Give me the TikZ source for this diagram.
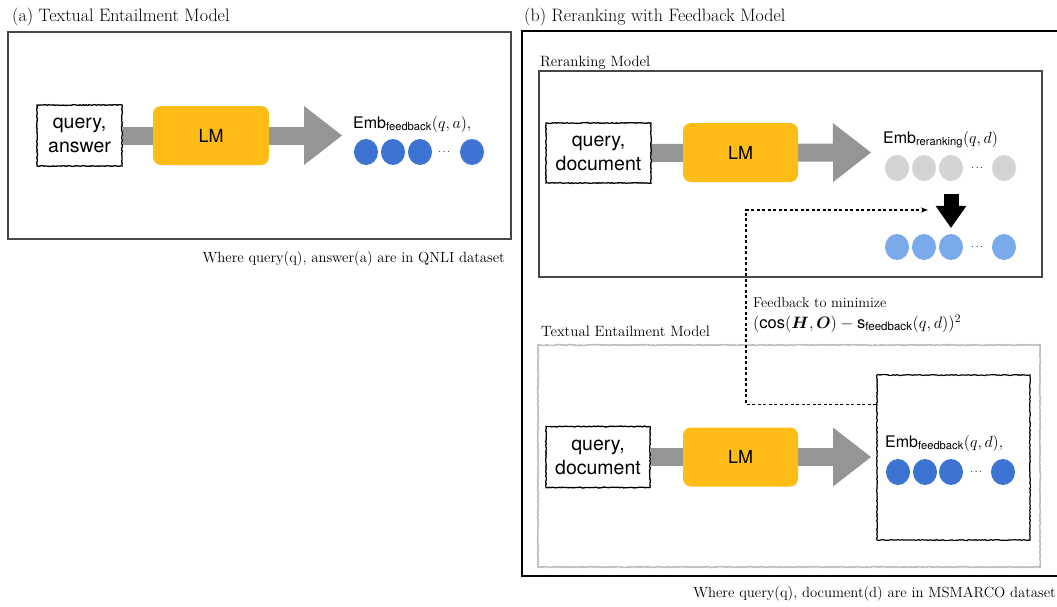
\RequirePackage{fix-cm}
\documentclass[tikz,border=0pt]{standalone}
\usepackage{amsmath, amssymb, bm}
\usepackage{fontspec}
\setsansfont{TeX Gyre Heros}
\usetikzlibrary{arrows.meta, shapes.geometric, decorations.pathmorphing, backgrounds}

\definecolor{oranyeLM}{HTML}{FEBC17}
\definecolor{abuPanah}{HTML}{959595}
\definecolor{biruTua}{HTML}{3D74D4}
\definecolor{biruMuda}{HTML}{7BAAEB}
\definecolor{abuTitik}{HTML}{D4D4D4}
\definecolor{abuBingkai}{HTML}{474747}
\definecolor{abuSketsa}{HTML}{BDBDBD}

\begin{document}
\begin{tikzpicture}[x=1pt, y=-1pt,
    judul/.style={font=\fontsize{18}{21}\selectfont, anchor=base west, inner sep=0pt},
    subjudul/.style={font=\fontsize{14.9}{17}\selectfont, anchor=base west, inner sep=0pt},
    keterangan/.style={font=\fontsize{14.7}{17}\selectfont, anchor=base east, inner sep=0pt},
    bingkai/.style={draw=abuBingkai, line width=2.2pt},
    sketsa/.style={decorate, decoration={random steps, segment length=1.5pt, amplitude=0.45pt}},
    masukan/.style={draw=black, line width=1.3pt, fill=white, align=center, inner sep=0pt,
        font=\sffamily\fontsize{19.5}{24}\selectfont, sketsa},
    kotakLM/.style={fill=oranyeLM, rounded corners=8pt, minimum width=116pt, minimum height=59pt,
        font=\sffamily\fontsize{18}{20}\selectfont},
    panahBesar/.style={line width=18pt, draw=abuPanah,
        -{Triangle[length=38pt, width=59pt, line width=0pt]}},
    panahHitam/.style={line width=15pt, draw=black,
        -{Triangle[length=22pt, width=31pt, line width=0pt]}},
    umpanBalik/.style={line width=1.2pt, dash pattern=on 3pt off 2.5pt,
        -{Stealth[length=7pt, width=5pt]}},
    titik/.style={ellipse, minimum width=24pt, minimum height=26pt, inner sep=0pt},
    emb/.style={font=\sffamily\fontsize{16}{18}\selectfont, anchor=base west, inner sep=0pt}]

    \useasboundingbox (0,0) rectangle (1057,606);
    \begin{scope}[on background layer]
        \fill[white] (0,0) rectangle (1057,606);
    \end{scope}

    % ===== Panel (a) =====
    \node[judul] (judulA) at (12,21) {(a) Textual Entailment Model};
    \draw[bingkai] (8,32) rectangle (511,239);

    % Kotak masukan dan LM
    \node[masukan, minimum width=85pt, minimum height=61pt] (inA) at (79.5,135.5) {query,\\answer};
    \node[kotakLM] (lmA) at (211,135.5) {LM};
    \coordinate (ujungA) at (342,135.5);
    \begin{scope}[on background layer]
        \draw[panahBesar] (inA.east) -- (ujungA);
    \end{scope}

    % Embedding
    \node[emb] (embA) at (353,128) {Emb$_{\textsf{feedback}}(q,a),$};
    \foreach \cx/\nm in {366/1, 393/2, 420/3, 472/4}
        \node[titik, fill=biruTua] (a\nm) at (\cx,152) {};
    \node (dotsA) at (445,152) {$\cdots$};

    \node[keterangan] (ketA) at (505,262) {Where query(q), answer(a) are in QNLI dataset};

    % ===== Panel (b) =====
    \node[judul] (judulB) at (524,21) {(b) Reranking with Feedback Model};
    \draw[line width=2.4pt] (522,31) rectangle (1064,576);

    % Reranking Model
    \node[subjudul] (judulR) at (540,66) {Reranking Model};
    \draw[bingkai, line width=2pt] (539,71) rectangle (1042,277);

    \node[masukan, minimum width=105pt, minimum height=60pt] (inR) at (598.5,153) {query,\\document};
    \node[kotakLM, minimum width=115pt] (lmR) at (740.5,152.5) {LM};
    \coordinate (ujungR) at (871,152.5);
    \begin{scope}[on background layer]
        \draw[panahBesar] (inR.east) -- (ujungR);
    \end{scope}

    \node[emb] (embR) at (883,143) {Emb$_{\textsf{reranking}}(q,d)$};
    \foreach \cx/\nm in {897/1, 924/2, 951/3, 1004/4}
        \node[titik, fill=abuTitik] (g\nm) at (\cx,168) {};
    \node (dotsG) at (978,168) {$\cdots$};

    % Panah ke embedding baru
    \foreach \cx/\nm in {897/1, 924/2, 951/3, 1004/4}
        \node[titik, fill=biruMuda] (b\nm) at (\cx,247) {};
    \node (dotsB) at (978,247) {$\cdots$};
    \draw[panahHitam] ([yshift=-13pt]g3.south) -- ([yshift=6pt]b3.north);

    % Textual Entailment Model
    \node[subjudul] (judulT) at (541,336) {Textual Entailment Model};
    \draw[draw=abuSketsa, line width=1.6pt, sketsa] (538,345) rectangle (1040,567);

    \node[masukan, minimum width=104pt, minimum height=61pt] (inT) at (598,457) {query,\\document};
    \node[kotakLM, minimum width=115pt] (lmT) at (740.5,457) {LM};
    \node[draw=black, line width=1.2pt, fill=white, sketsa, minimum width=153pt, minimum height=165pt,
        inner sep=0pt] (kotakT) at (953.5,457.5) {};
    \coordinate (ujungT) at (871,457);
    \begin{scope}[on background layer]
        \draw[panahBesar] (inT.east) -- (ujungT);
    \end{scope}

    \node[emb] (embT) at (885,447) {Emb$_{\textsf{feedback}}(q,d),$};
    \foreach \cx/\nm in {898/1, 925/2, 951/3, 1003/4}
        \node[titik, fill=biruTua] (t\nm) at (\cx,472) {};
    \node (dotsT) at (977,472) {$\cdots$};

    % Umpan balik (garis putus-putus)
    \coordinate (ujungFB) at (928,210);
    \draw[umpanBalik] ([yshift=-30pt]kotakT.north west) -| (746,210) -- (ujungFB);
    \node[font=\fontsize{14.3}{21}\selectfont, align=left, anchor=base west, inner sep=0pt] (teksFB) at (753,328)
        {Feedback to minimize\\
         {\fontsize{16.5}{21}\selectfont $(\textsf{cos}(\bm{H},\bm{O})-\textsf{s}_{\textsf{feedback}}(q,d))^2$}};

    \node[keterangan] (ketB) at (1056,597) {Where query(q), document(d) are in MSMARCO dataset};
\end{tikzpicture}
\end{document}
